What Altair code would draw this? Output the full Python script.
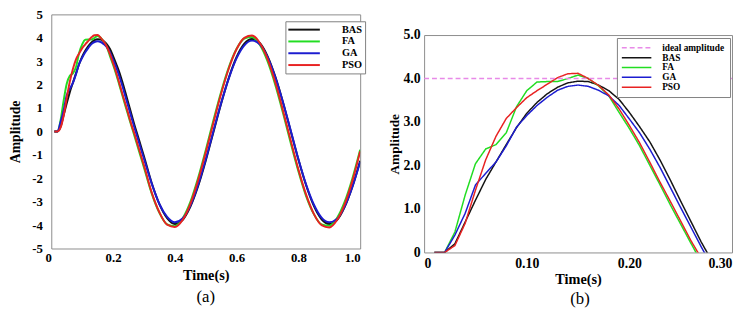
import altair as alt
import pandas as pd

FONT = "Liberation Serif"

series_names = ["BAS", "FA", "GA", "PSO"]
series_colors = ["#141414", "#22dd22", "#1c1cd0", "#e82222"]
ideal_name = "ideal amplitude"
ideal_color = "#e88ae8"

# time samples (s)
t_fine = [0.01, 0.02, 0.03, 0.04, 0.05, 0.06, 0.07, 0.08, 0.09, 0.10,
          0.11, 0.12, 0.13, 0.14, 0.15, 0.16, 0.17, 0.18, 0.19, 0.20,
          0.21, 0.22, 0.23, 0.24, 0.25, 0.26, 0.27, 0.28, 0.29, 0.30]
t_coarse = [0.325, 0.35, 0.375, 0.40, 0.425, 0.45, 0.475, 0.50, 0.525, 0.55,
            0.575, 0.60, 0.625, 0.65, 0.675, 0.70, 0.725, 0.75, 0.775, 0.80,
            0.825, 0.85, 0.875, 0.90, 0.925, 0.95, 0.975, 1.00]

bas_fine = [0, 0, 0.2, 0.7, 1.2, 1.68, 2.08, 2.48, 2.87, 3.2,
            3.45, 3.65, 3.8, 3.9, 3.94, 3.93, 3.85, 3.72, 3.52, 3.22,
            2.89, 2.54, 2.12, 1.66, 1.18, 0.71, 0.24, -0.18, -0.62, -1.06]
fa_fine = [0, 0, 0.47, 1.32, 2.04, 2.38, 2.48, 2.75, 3.35, 3.72,
           3.92, 3.93, 3.93, 4.0, 4.08, 4.0, 3.83, 3.6, 3.22, 2.85,
           2.45, 2.0, 1.55, 1.09, 0.65, 0.21, -0.22, -0.66, -1.1, -1.54]
ga_fine = [0, 0, 0.4, 0.9, 1.55, 1.82, 2.08, 2.45, 2.88, 3.15,
           3.38, 3.57, 3.73, 3.82, 3.85, 3.82, 3.73, 3.6, 3.38, 3.07,
           2.75, 2.37, 1.95, 1.49, 1.03, 0.58, 0.13, -0.3, -0.74, -1.16]
pso_fine = [0, 0, 0.16, 0.67, 1.43, 2.13, 2.67, 3.08, 3.33, 3.56,
            3.72, 3.87, 4.02, 4.11, 4.12, 4.0, 3.84, 3.62, 3.3, 2.92,
            2.52, 2.07, 1.61, 1.17, 0.72, 0.27, -0.13, -0.58, -1.02, -1.45]

bas_coarse = [-2.2, -3.1, -3.7, -3.95, -3.78, -3.22, -2.35, -1.25, -0.02, 1.2,
              2.3, 3.18, 3.75, 3.95, 3.78, 3.22, 2.35, 1.25, 0.02, -1.2,
              -2.3, -3.18, -3.75, -3.95, -3.78, -3.22, -2.35, -1.25]
fa_coarse = [-2.65, -3.48, -3.97, -4.05, -3.72, -3.02, -2.0, -0.8, 0.48, 1.7,
             2.75, 3.53, 3.97, 4.03, 3.7, 3.0, 2.0, 0.8, -0.48, -1.7,
             -2.76, -3.53, -3.97, -4.03, -3.7, -3.0, -2.0, -0.78]
ga_coarse = [-2.22, -3.1, -3.65, -3.88, -3.72, -3.18, -2.3, -1.2, 0.02, 1.22,
             2.28, 3.13, 3.68, 3.88, 3.72, 3.18, 2.32, 1.25, 0.05, -1.18,
             -2.27, -3.12, -3.68, -3.88, -3.74, -3.2, -2.36, -1.3]
pso_coarse = [-2.6, -3.45, -3.98, -4.08, -3.78, -3.1, -2.1, -0.9, 0.38, 1.62,
              2.7, 3.52, 4.0, 4.1, 3.78, 3.1, 2.1, 0.9, -0.38, -1.62,
              -2.7, -3.52, -4.0, -4.1, -3.78, -3.1, -2.1, -0.85]

ideal_t = [0.0, 0.30]
ideal_amp = [4.0, 4.0]

fine = {"BAS": bas_fine, "FA": fa_fine, "GA": ga_fine, "PSO": pso_fine}
coarse = {"BAS": bas_coarse, "FA": fa_coarse, "GA": ga_coarse, "PSO": pso_coarse}

rows_left, rows_right = [], []
for s in series_names:
    for t, a in zip(t_fine + t_coarse, fine[s] + coarse[s]):
        rows_left.append({"t": t, "amp": a, "series": s})
    for t, a in zip(t_fine, fine[s]):
        rows_right.append({"t": t, "amp": a, "series": s})
for t, a in zip(ideal_t, ideal_amp):
    rows_right.append({"t": t, "amp": a, "series": ideal_name})
df_left = pd.DataFrame(rows_left)
df_right = pd.DataFrame(rows_right)

# ---------------- left panel (a) ----------------
LW, LH = 314, 238
left_legend = alt.Legend(
    title=None, orient="none", legendX=238, legendY=7,
    symbolType="M-3.56,0H3.56", symbolSize=81, symbolStrokeWidth=2, symbolOffset=10.5,
    labelFont=FONT, labelFontWeight="bold", labelFontSize=10.5, labelColor="black",
    labelOffset=33, padding=3, rowPadding=1.0,
    strokeColor="#808080", fillColor="white",
    labelExpr="datum.label + '   '",
)
left_lines = alt.Chart(df_left).mark_line(strokeWidth=2, interpolate="monotone", clip=True).encode(
    x=alt.X("t:Q", scale=alt.Scale(domain=[0, 1], nice=False, zero=False),
            axis=alt.Axis(values=[0, 0.2, 0.4, 0.6, 0.8, 1.0],
                          labelExpr="datum.value == 0 ? '0' : format(datum.value, '.1f')",
                          labelAlign={"condition": {"test": "datum.value == 0 || datum.value == 1", "value": "right"}, "value": "center"},
                          labelFontSize=13, labelPadding=3,
                          title="Time(s)", titleFontSize=14.5, titlePadding=4)),
    y=alt.Y("amp:Q", scale=alt.Scale(domain=[-5, 5], nice=False),
            axis=alt.Axis(values=list(range(-5, 6)), labelExpr="'' + datum.value",
                          labelFontSize=13, labelPadding=9,
                          title="Amplitude", titleFontSize=14, titlePadding=9)),
    color=alt.Color("series:N", scale=alt.Scale(domain=series_names, range=series_colors),
                    legend=left_legend),
)
left_cap = alt.Chart(pd.DataFrame({"cap": ["(a)"]})).mark_text(
    font=FONT, fontSize=17, fontWeight="normal", color="black", baseline="middle"
).encode(text="cap:N", x=alt.value(LW / 2), y=alt.value(LH + 49))
left = alt.layer(left_lines, left_cap).properties(width=LW, height=LH)

# ---------------- right panel (b) ----------------
RW, RH = 313, 221
right_domain = [ideal_name] + series_names
right_legend = alt.Legend(
    title=None, orient="none", legendX=196, legendY=24,
    symbolType="M-3.75,0H3.75", symbolSize=64, symbolStrokeWidth=1.5, symbolOffset=10,
    labelFont=FONT, labelFontWeight="bold", labelFontSize=9.5, labelColor="black",
    labelOffset=21, padding=5, rowPadding=0,
    strokeColor="#808080", fillColor="white",
)
right_lines = alt.Chart(df_right).mark_line(strokeWidth=1.5, clip=True).encode(
    x=alt.X("t:Q", scale=alt.Scale(domain=[0, 0.3], nice=False, zero=False),
            axis=alt.Axis(values=[0, 0.1, 0.2, 0.3],
                          labelExpr="datum.value == 0 ? '0' : format(datum.value, '.2f')",
                          labelFlush=True,
                          labelFontSize=14, labelPadding=4,
                          title="Time(s)", titleFontSize=14.5, titlePadding=3)),
    y=alt.Y("amp:Q", scale=alt.Scale(domain=[0, 5], nice=False),
            axis=alt.Axis(values=[0, 1, 2, 3, 4, 5],
                          labelExpr="datum.value == 0 ? '0' : format(datum.value, '.1f')",
                          labelFontSize=14, labelPadding=4,
                          title="Amplitude", titleFontSize=13.5, titlePadding=2)),
    color=alt.Color("series:N", scale=alt.Scale(domain=right_domain, range=[ideal_color] + series_colors),
                    legend=right_legend),
    strokeDash=alt.StrokeDash("series:N",
                              scale=alt.Scale(domain=right_domain, range=[[5, 3], [1, 0], [1, 0], [1, 0], [1, 0]]),
                              legend=right_legend),
)
right_cap = alt.Chart(pd.DataFrame({"cap": ["(b)"]})).mark_text(
    font=FONT, fontSize=17, fontWeight="normal", color="black", baseline="middle"
).encode(text="cap:N", x=alt.value(RW / 2 + 2), y=alt.value(RH + 47))
right_panel = alt.layer(right_lines, right_cap).properties(width=RW, height=RH)

# empty spacer that lowers panel (b) relative to panel (a)
spacer = alt.Chart(pd.DataFrame({"s": [0]})).mark_point(opacity=0).encode(
    x=alt.value(0), y=alt.value(0)
).properties(width=RW, height=12, view=alt.ViewBackground(stroke="transparent"))

right = alt.vconcat(spacer, right_panel, spacing=0)

chart = alt.hconcat(left, right, spacing=21).resolve_scale(
    color="independent", strokeDash="independent"
).resolve_legend(
    color="independent", strokeDash="independent"
).properties(
    padding={"left": 0, "top": -3, "right": 0, "bottom": 0}
).configure_axis(
    labelFont=FONT, labelFontWeight="bold", labelColor="black",
    titleFont=FONT, titleFontWeight="bold", titleColor="black",
    grid=False, domain=False, ticks=False,
).configure_view(
    stroke="#8c8c8c", strokeWidth=1
)

chart.save("out.html", embed_options={"renderer": "svg", "actions": False})
